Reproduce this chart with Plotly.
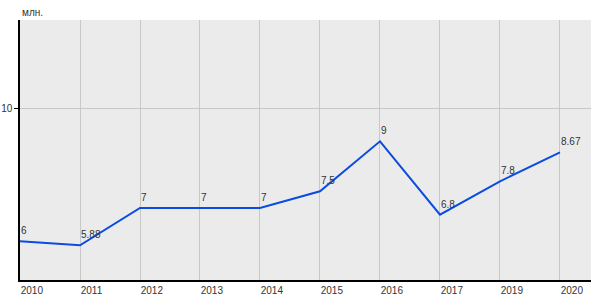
import plotly.graph_objects as go

years = ["2010", "2011", "2012", "2013", "2014", "2015", "2016", "2017", "2019", "2020"]
values = [6, 5.88, 7, 7, 7, 7.5, 9, 6.8, 7.8, 8.67]
labels = ["6", "5.88", "7", "7", "7", "7.5", "9", "6.8", "7.8", "8.67"]

fig = go.Figure()
fig.add_trace(go.Scatter(
    x=years, y=values, mode="lines",
    line=dict(color="#0a4be0", width=2),
    hoverinfo="skip",
))

# category axis: annotation x given as category index
annotations = [dict(
    text=t, x=i, y=yv, xref="x", yref="y",
    xanchor="left", yanchor="bottom", xshift=-1, yshift=3,
    showarrow=False, font=dict(family="Arial, Liberation Sans", size=10, color="#333333"),
) for i, (yv, t) in enumerate(zip(values, labels))]

annotations.append(dict(
    text="млн.", xref="paper", yref="paper", x=0, y=1,
    xanchor="left", yanchor="bottom", yshift=0, showarrow=False,
    font=dict(family="Arial, Liberation Sans", size=10, color="#333333"),
))

fig.update_layout(
    width=600, height=300,
    margin=dict(l=20, r=9, t=20, b=20),
    paper_bgcolor="white", plot_bgcolor="#ebebeb",
    showlegend=False,
    font=dict(family="Arial, Liberation Sans", size=10, color="#333333"),
    xaxis=dict(
        type="category", range=[0, 9.517], automargin=False,
        showgrid=True, gridcolor="#c8c8c8", gridwidth=1,
        showline=True, linecolor="black", linewidth=1.5,
        ticks="", ticklabelposition="outside right",
        zeroline=False, tickfont=dict(size=10, color="#333333"),
    ),
    yaxis=dict(
        range=[4.84, 12.64], tickvals=[10], ticktext=["10"], automargin=False,
        showgrid=True, gridcolor="#c8c8c8", gridwidth=1,
        showline=True, linecolor="black", linewidth=1.5,
        ticks="outside", ticklen=4, tickcolor="black",
        zeroline=False, tickfont=dict(size=10, color="#333333"),
    ),
    annotations=annotations,
)

fig.write_html("out.html")
